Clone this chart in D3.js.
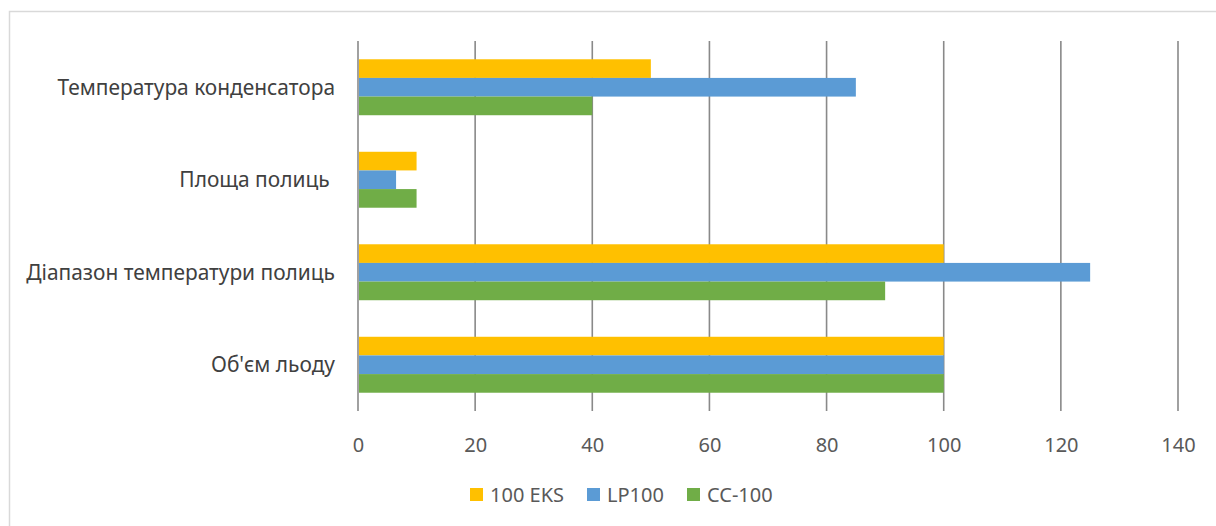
<!DOCTYPE html>
<html>
<head>
<meta charset="utf-8">
<script src="https://cdn.jsdelivr.net/npm/d3@7"></script>
<style>
html,body{margin:0;padding:0;background:#fff;}
svg{display:block;}
text{font-family:"Noto Sans",sans-serif;white-space:pre;}
</style>
</head>
<body>
<svg id="chart" width="1216" height="526"></svg>
<script>
const categories = ["Температура конденсатора", "Площа полиць ", "Діапазон температури полиць", "Об'єм льоду"];
const seriesNames = ["100 EKS", "LP100", "CC-100"];
const eks100 = [50, 10, 100, 100];
const lp100 = [85, 6.5, 125, 100];
const cc100 = [40, 10, 90, 100];
const xTicks = [0, 20, 40, 60, 80, 100, 120, 140];
const colors = ["#FFC000", "#5B9BD5", "#70AD47"];

(function () {
const seriesValues = [eks100, lp100, cc100];
const data = categories.map((c, i) => ({cat: c, vals: seriesNames.map((s, j) => ({s, v: seriesValues[j][i], k: j}))}));

const svg = d3.select("#chart");
const W = 1216, H = 526;

// outer border
svg.append("rect").attr("x", 9.5).attr("y", 11.5).attr("width", W + 10).attr("height", H + 10)
  .attr("fill", "#fff").attr("stroke", "#D9D9D9").attr("stroke-width", 1.5);

const pLeft = 358, pRight = 1178, pTop = 41, pBottom = 411;
const x = d3.scaleLinear().domain([0, 140]).range([pLeft, pRight]);
const y = d3.scaleBand().domain(categories).range([pTop, pBottom]).paddingInner(0.395).paddingOuter(0.1975);
const ys = d3.scaleBand().domain(seriesNames).range([0, y.bandwidth()]);

// gridlines
svg.append("g").selectAll("line").data(xTicks).join("line")
  .attr("x1", d => x(d)).attr("x2", d => x(d))
  .attr("y1", pTop).attr("y2", pBottom)
  .attr("stroke", "#898989").attr("stroke-width", 1.6);

// bars
const g = svg.append("g").selectAll("g").data(data).join("g")
  .attr("transform", d => `translate(0,${y(d.cat)})`);
g.selectAll("rect").data(d => d.vals).join("rect")
  .attr("x", x(0) + 1)
  .attr("y", d => ys(d.s))
  .attr("width", d => x(d.v) - x(0) - 1)
  .attr("height", ys.bandwidth())
  .attr("fill", d => colors[d.k]);

// x axis labels
const xAxis = d3.axisBottom(x).tickValues(xTicks).tickSize(0).tickPadding(0);
const ax = svg.append("g").attr("transform", `translate(0,${pBottom})`).call(xAxis);
ax.select(".domain").remove();
ax.selectAll("text").attr("y", 34).attr("dy", "0.35em")
  .attr("fill", "#595959").style("font-size", "20px").style("font-family", "'Noto Sans',sans-serif");

// y axis labels
const yAxis = d3.axisLeft(y).tickSize(0).tickPadding(0);
const ay = svg.append("g").attr("transform", `translate(${pLeft - 23},0)`).call(yAxis);
ay.select(".domain").remove();
ay.selectAll("text").attr("dy", "0.35em")
  .attr("fill", "#404040").style("font-size", "20.9px").style("font-family", "'Noto Sans',sans-serif")
  .style("white-space", "pre");

// legend
const legendX = [470, 587, 687];
const lg = svg.append("g").selectAll("g").data(seriesNames).join("g")
  .attr("transform", (d, i) => `translate(${legendX[i]},488)`);
lg.append("rect").attr("width", 13).attr("height", 13).attr("fill", (d, i) => colors[i]);
lg.append("text").attr("x", 20).attr("y", 7).attr("dy", "0.35em")
  .attr("fill", "#595959").style("font-size", "20px").text(d => d);
})();
</script>
</body>
</html>
